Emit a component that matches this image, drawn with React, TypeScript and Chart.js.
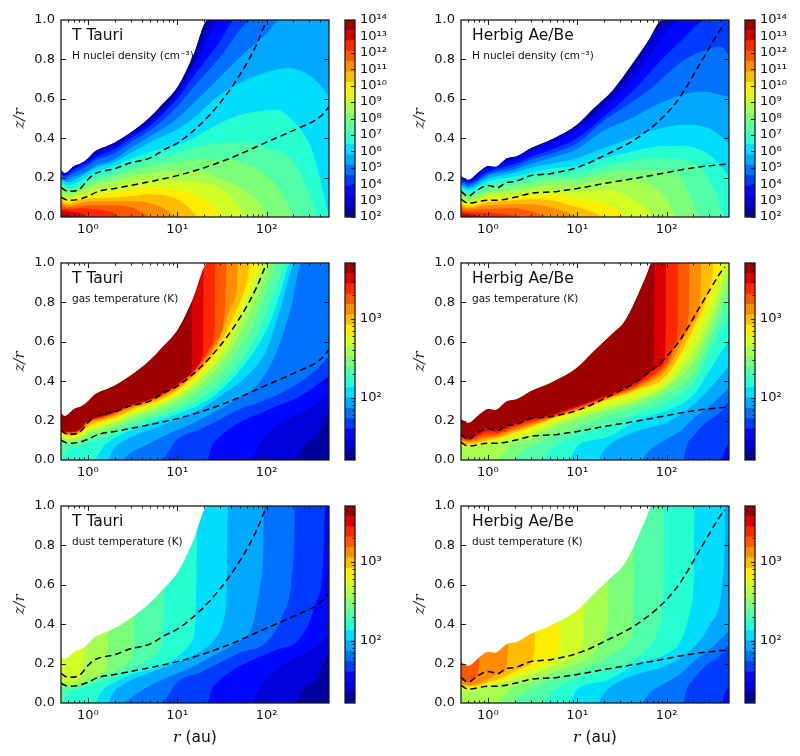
import React, { useEffect, useRef } from "react";
import { Chart, registerables } from "chart.js";
Chart.register(...registerables);

type P = number[][];

// ---- colour-bar level edges
const densityLevels = [1e2, 428, 1833, 7848, 33600, 143844, 615848, 2636651, 1.1288e7, 4.8329e7, 2.0691e8, 8.8587e8, 3.7927e9, 1.6238e10, 6.9519e10, 2.9764e11, 1.2743e12, 5.4556e12, 2.3357e13, 1e14];
const tempLevels = [16.2, 21.9, 29.7, 40.2, 54.4, 73.7, 99.7, 135, 182.7, 247.3, 334.7, 453.1, 613.3, 830.2, 1123.7, 1521, 2059, 2787, 3772, 5106];
const densityTicks = [1e2, 1e3, 1e4, 1e5, 1e6, 1e7, 1e8, 1e9, 1e10, 1e11, 1e12, 1e13, 1e14];
const tempTicks = [1e2, 1e3];
const tempMinor = [20, 30, 40, 50, 60, 70, 80, 90, 200, 300, 400, 500, 600, 700, 800, 900, 2000, 3000, 4000, 5000];
const rMajor = [1, 10, 100];
const rMinor = [0.6, 0.7, 0.8, 0.9, 2, 3, 4, 5, 6, 7, 8, 9, 20, 30, 40, 50, 60, 70, 80, 90, 200, 300, 400];
const zTicks = [0, 0.2, 0.4, 0.6, 0.8, 1];

// ---- dashed curves
const ttDashUpper: P = [[0.5,0.15],[0.6,0.13],[0.8,0.14],[1,0.19],[1.2,0.22],[2,0.245],[3,0.275],[5,0.30],[7,0.34],[10,0.375],[18,0.468],[30,0.578],[50,0.72],[78,0.88],[100,1]];
const ttDashLower: P = [[0.5,0.10],[0.6,0.085],[0.8,0.09],[1,0.105],[1.3,0.13],[2,0.145],[3,0.16],[5,0.18],[10,0.21],[20,0.25],[40,0.30],[100,0.38],[200,0.44],[400,0.51],[500,0.56]];
const haDashUpper: P = [[0.5,0.13],[0.6,0.105],[0.75,0.135],[1,0.16],[1.3,0.15],[1.6,0.175],[2,0.18],[3,0.21],[5,0.22],[10.8,0.257],[23,0.325],[43,0.39],[93,0.51],[142,0.61],[238,0.78],[400,0.95],[450,0.98]];
const haDashLower: P = [[0.5,0.09],[0.6,0.07],[1,0.085],[1.2,0.085],[2,0.1],[3,0.12],[6,0.13],[10,0.145],[20,0.17],[50,0.2],[100,0.225],[200,0.25],[500,0.27]];

// ---- envelopes of the filled region
const ttEnvelope: P = [[0.5,0.24],[0.55,0.225],[0.7,0.26],[0.85,0.275],[1,0.30],[1.2,0.335],[1.5,0.355],[2,0.38],[3,0.43],[5,0.51],[7,0.58],[10,0.66],[15,0.82],[22,1]];
const haEnvelopeDensity: P = [[0.5,0.21],[0.6,0.19],[0.79,0.23],[1.02,0.26],[1.2,0.255],[1.63,0.30],[2.1,0.31],[3,0.35],[5.4,0.40],[9.9,0.47],[15,0.55],[25,0.645],[43,0.79],[63,0.90],[89,1]];
const haEnvelopeTemp: P = [[0.5,0.21],[0.6,0.19],[0.79,0.23],[1.02,0.26],[1.2,0.255],[1.63,0.30],[2.1,0.31],[3,0.35],[5.4,0.40],[9.9,0.47],[15,0.55],[25,0.645],[32,0.69],[39,0.755],[51,0.87],[60,0.945],[68,1]];

// ---- T Tauri density contours, lowest level first
const ttDensity: P[] = [
  ttEnvelope,
  [[0.5,0.235],[0.55,0.22],[0.7,0.255],[1,0.295],[1.2,0.325],[2,0.37],[3,0.42],[5,0.495],[10,0.64],[15,0.78],[25.5,1]],
  [[0.5,0.23],[0.55,0.215],[0.7,0.245],[1,0.285],[1.2,0.315],[2,0.36],[3,0.41],[5,0.48],[10,0.62],[15,0.75],[31.6,1]],
  [[0.5,0.225],[0.55,0.21],[0.7,0.24],[1,0.275],[1.2,0.30],[2,0.345],[3,0.40],[5,0.465],[10,0.60],[15,0.71],[30,0.89],[44.6,1]],
  [[0.5,0.215],[0.55,0.20],[0.7,0.225],[1,0.26],[1.2,0.285],[2,0.325],[3,0.38],[5,0.44],[10,0.56],[15,0.655],[30,0.81],[71.5,1]],
  [[0.5,0.20],[0.55,0.185],[0.7,0.205],[1,0.235],[1.2,0.26],[2,0.295],[3,0.35],[5,0.41],[10,0.50],[15,0.575],[30,0.71],[50,0.81],[100,0.93],[142,1]],
  [[0.5,0.19],[0.6,0.175],[0.8,0.20],[1.15,0.245],[2,0.28],[3,0.325],[5,0.38],[10,0.445],[15,0.50],[30,0.62],[50,0.68],[100,0.735],[180,0.756],[300,0.72],[400,0.67],[500,0.61]],
  [[0.5,0.18],[0.6,0.16],[0.8,0.18],[1.15,0.225],[2,0.26],[3,0.295],[5,0.33],[10,0.365],[15,0.40],[30,0.475],[50,0.518],[100,0.54],[130,0.545],[200,0.484],[300,0.375],[368,0.255],[450,0.09],[500,0]],
  [[0.5,0.165],[0.6,0.145],[0.8,0.16],[1.15,0.20],[2,0.235],[3,0.265],[5,0.295],[10,0.325],[15,0.35],[30,0.375],[60,0.38],[100,0.35],[200,0.28],[300,0.12],[368,0]],
  [[0.5,0.15],[0.6,0.13],[0.8,0.145],[1.15,0.18],[2,0.21],[3,0.235],[5,0.26],[10,0.28],[15,0.29],[30,0.29],[50,0.28],[100,0.213],[150,0.12],[200,0]],
  [[0.5,0.135],[0.6,0.115],[0.8,0.13],[1.15,0.16],[2,0.185],[3,0.205],[5,0.225],[10,0.235],[15,0.235],[30,0.197],[50,0.15],[80,0.08],[103,0]],
  [[0.5,0.12],[0.6,0.10],[0.8,0.115],[1.15,0.135],[2,0.155],[3,0.17],[5,0.19],[10,0.185],[15,0.18],[30,0.147],[50,0.05],[58,0]],
  [[0.5,0.105],[0.6,0.085],[0.8,0.10],[1.15,0.115],[2,0.125],[3,0.14],[5,0.15],[10,0.14],[15,0.12],[25,0.06],[31,0]],
  [[0.5,0.09],[0.6,0.07],[0.8,0.085],[1.15,0.095],[2,0.10],[3,0.105],[5,0.115],[10,0.09],[14,0.04],[16.6,0]],
  [[0.5,0.075],[0.6,0.06],[0.8,0.07],[1.15,0.08],[2,0.08],[3,0.08],[5,0.07],[8,0.03],[9.1,0]],
  [[0.5,0.06],[0.6,0.05],[0.8,0.055],[1.15,0.06],[2,0.06],[3,0.05],[4.2,0.02],[4.8,0]],
  [[0.5,0.045],[0.6,0.04],[0.8,0.045],[1.15,0.04],[1.8,0.025],[2.3,0]],
  [[0.5,0.035],[0.6,0.03],[0.8,0.02],[1,0]],
  [[0.5,0.015],[0.6,0.01],[0.7,0]],
];

// ---- Herbig Ae/Be density contours
const haDensity: P[] = [
  haEnvelopeDensity,
  [[0.5,0.205],[0.6,0.188],[1,0.255],[2,0.30],[3,0.34],[5,0.385],[10,0.455],[20,0.58],[40,0.73],[70,0.92],[110,1]],
  [[0.5,0.20],[0.6,0.185],[1,0.25],[2,0.29],[3,0.33],[5,0.37],[10,0.44],[20,0.55],[40,0.69],[70,0.84],[150,1]],
  [[0.5,0.19],[0.6,0.175],[1,0.23],[2,0.27],[3,0.305],[5,0.34],[10,0.40],[20,0.51],[40,0.63],[70,0.75],[150,0.90],[282,1]],
  [[0.5,0.18],[0.6,0.165],[1,0.22],[2,0.255],[3,0.29],[5,0.32],[10,0.375],[20,0.49],[40,0.58],[70,0.66],[150,0.79],[300,0.855],[400,0.865],[500,0.82]],
  [[0.5,0.17],[0.6,0.155],[1,0.21],[2,0.24],[3,0.27],[5,0.30],[10,0.345],[20,0.44],[40,0.50],[70,0.56],[150,0.62],[250,0.637],[500,0.61]],
  [[0.5,0.16],[0.6,0.145],[1,0.195],[2,0.225],[3,0.25],[5,0.27],[10,0.30],[20,0.35],[40,0.40],[70,0.44],[169,0.47],[300,0.45],[500,0.375]],
  [[0.5,0.15],[0.6,0.135],[1,0.18],[2,0.205],[3,0.225],[5,0.245],[10,0.26],[20,0.30],[40,0.33],[70,0.355],[125,0.36],[228,0.345],[350,0.29],[435,0.24],[500,0.2]],
  [[0.5,0.135],[0.6,0.12],[1,0.16],[2,0.185],[3,0.20],[5,0.215],[10,0.225],[20,0.26],[40,0.285],[70,0.30],[125,0.295],[228,0.26],[350,0.13],[435,0]],
  [[0.5,0.12],[0.6,0.105],[1,0.14],[2,0.16],[3,0.175],[5,0.19],[10,0.195],[20,0.225],[40,0.24],[70,0.24],[125,0.23],[180,0.12],[228,0]],
  [[0.5,0.105],[0.6,0.09],[1,0.125],[2,0.14],[3,0.15],[5,0.165],[10,0.165],[20,0.19],[40,0.19],[70,0.155],[100,0.09],[125,0]],
  [[0.5,0.09],[0.6,0.08],[1,0.11],[2,0.12],[3,0.13],[5,0.14],[10,0.13],[20,0.14],[40,0.10],[60,0.04],[68.5,0]],
  [[0.5,0.08],[0.6,0.065],[1,0.09],[2,0.10],[3,0.11],[5,0.115],[10,0.09],[20,0.07],[30,0.03],[36,0]],
  [[0.5,0.07],[0.6,0.055],[1,0.075],[2,0.085],[3,0.09],[5,0.085],[10,0.05],[15,0.025],[18.9,0]],
  [[0.5,0.055],[0.6,0.045],[1,0.06],[2,0.065],[3,0.065],[5,0.05],[8,0.02],[9.9,0]],
  [[0.5,0.04],[0.6,0.035],[1,0.04],[2,0.045],[3,0.03],[4,0.01],[4.8,0]],
  [[0.5,0.03],[0.6,0.025],[1,0.02],[1.8,0.01],[2.3,0]],
  [[0.5,0.02],[0.6,0.015],[0.8,0.005],[0.89,0]],
  [[0.5,0.01],[0.6,0.005],[0.66,0]],
];

// ---- T Tauri gas temperature contours, hottest first
const ttCold2: P = [[68,0],[78,0.054],[92,0.105],[130,0.172],[200,0.223],[307,0.265],[500,0.34]];
const ttCold1: P = [[218,0],[248,0.054],[295,0.096],[350,0.105],[398,0.155],[500,0.257]];
const ttGas: P[] = [
  ttEnvelope,
  [[0.5,0.155],[0.6,0.145],[0.8,0.155],[1,0.20],[1.5,0.225],[2,0.245],[3,0.28],[5,0.31],[8,0.355],[12,0.405],[14.4,0.43],[14.6,0.5],[14.7,1]],
  [[0.5,0.15],[0.6,0.14],[0.8,0.15],[1,0.197],[1.5,0.223],[2,0.243],[3,0.277],[5,0.307],[8,0.352],[12,0.41],[16,0.455],[19,0.52],[19.6,0.6],[19.8,1]],
  [[0.5,0.15],[0.6,0.14],[0.8,0.15],[1,0.195],[1.5,0.22],[2,0.24],[3,0.275],[5,0.305],[8,0.35],[12,0.405],[18,0.49],[24,0.58],[26.3,0.70],[26.7,1]],
  [[0.5,0.145],[0.6,0.135],[0.8,0.145],[1,0.19],[1.5,0.215],[2,0.235],[3,0.27],[5,0.30],[8,0.345],[12,0.40],[20,0.505],[27,0.60],[34,0.75],[36,1]],
  [[0.5,0.14],[0.6,0.13],[0.8,0.14],[1,0.18],[1.5,0.21],[2,0.225],[3,0.26],[5,0.295],[8,0.335],[12,0.39],[20,0.49],[30,0.62],[40,0.78],[47,0.90],[48,1]],
  [[0.5,0.135],[0.6,0.125],[0.8,0.135],[1,0.17],[1.5,0.20],[2,0.215],[3,0.25],[5,0.285],[8,0.325],[12,0.38],[20,0.475],[30,0.59],[46,0.76],[60,0.90],[66,1]],
  [[0.5,0.125],[0.6,0.115],[0.8,0.125],[1,0.16],[1.5,0.185],[2,0.205],[3,0.24],[5,0.275],[8,0.315],[12,0.365],[20,0.455],[30,0.56],[46,0.72],[60,0.85],[93,1]],
  [[0.5,0.115],[0.6,0.105],[0.8,0.115],[1,0.145],[1.5,0.17],[2,0.19],[3,0.225],[5,0.26],[8,0.30],[12,0.345],[20,0.43],[30,0.52],[46,0.66],[71,0.85],[105,1]],
  [[0.5,0.105],[0.6,0.095],[0.8,0.10],[1,0.13],[1.5,0.155],[2,0.175],[3,0.21],[5,0.245],[8,0.28],[12,0.325],[20,0.40],[30,0.485],[46,0.61],[71,0.78],[100,0.95],[112,1]],
  [[0.5,0.09],[0.6,0.08],[0.8,0.085],[1,0.11],[1.5,0.135],[2,0.155],[3,0.19],[5,0.225],[8,0.26],[12,0.295],[20,0.365],[30,0.435],[46,0.54],[71,0.69],[100,0.86],[135,1]],
  [[0.53,0.01],[0.6,0.055],[0.8,0.065],[1,0.085],[1.5,0.11],[2,0.13],[3,0.17],[5,0.20],[8,0.235],[12,0.265],[20,0.32],[30,0.38],[46,0.47],[71,0.60],[110,0.80],[140,0.92],[165,1]],
  [[1.2,0],[1.5,0.07],[2,0.113],[3.2,0.155],[6,0.198],[11,0.24],[19.7,0.29],[30,0.35],[46,0.434],[71,0.544],[110,0.70],[150,0.88],[185,1]],
  [[1.7,0],[1.94,0.054],[2.73,0.105],[5,0.155],[10,0.206],[18,0.257],[30,0.324],[55,0.41],[100,0.56],[150,0.80],[210,1]],
  [[2.5,0],[3,0.035],[4.2,0.07],[7.7,0.13],[12.8,0.172],[25,0.24],[43,0.30],[85,0.40],[130,0.55],[190,0.78],[248,1]],
  [[7,0],[10,0.105],[18,0.155],[30,0.206],[50,0.257],[100,0.307],[200,0.375],[364,0.46],[500,0.527]],
  [[22,0],[24.4,0.07],[28,0.105],[43,0.172],[71,0.223],[130,0.274],[238,0.324],[500,0.426]],
  ttCold2,
  ttCold1,
];

// ---- Herbig Ae/Be gas temperature contours
const haCold5: P = [[53,0],[66,0.054],[100,0.105],[142,0.147],[200,0.21],[307,0.274],[500,0.367]];
const haCold4: P = [[155,0],[168,0.07],[200,0.12],[248,0.17],[307,0.206],[396,0.24],[500,0.30]];
const haCold3: P = [[415,0],[450,0.05],[500,0.088]];
const haGas: P[] = [
  haEnvelopeTemp,
  [[0.5,0.135],[0.6,0.11],[0.75,0.14],[1,0.165],[1.2,0.155],[2,0.19],[3,0.21],[5,0.23],[10,0.275],[20,0.325],[50,0.41],[60,0.44],[72,0.47],[73,0.6],[74,1]],
  [[0.5,0.125],[0.6,0.105],[0.75,0.125],[1,0.15],[1.2,0.145],[2,0.18],[3,0.205],[5,0.225],[10,0.27],[20,0.32],[50,0.40],[80,0.47],[96,0.52],[98,0.7],[99,1]],
  [[0.5,0.115],[0.6,0.10],[0.75,0.115],[1,0.135],[1.2,0.135],[2,0.17],[3,0.195],[5,0.22],[10,0.265],[20,0.315],[50,0.39],[100,0.50],[125,0.59],[134,0.7],[135,1]],
  [[0.5,0.105],[0.6,0.095],[0.75,0.105],[1,0.12],[1.2,0.125],[2,0.16],[3,0.185],[5,0.215],[10,0.26],[20,0.31],[50,0.38],[100,0.48],[150,0.63],[178,0.75],[181,1]],
  [[0.5,0.095],[0.6,0.09],[0.75,0.095],[1,0.11],[1.2,0.115],[2,0.15],[3,0.175],[5,0.21],[10,0.255],[20,0.305],[50,0.37],[100,0.46],[200,0.70],[240,0.85],[244,1]],
  [[0.5,0.085],[0.6,0.08],[0.75,0.085],[1,0.10],[1.2,0.105],[2,0.14],[3,0.165],[5,0.205],[10,0.25],[20,0.30],[50,0.36],[100,0.43],[200,0.67],[300,0.87],[330,0.97],[332,1]],
  [[0.5,0.08],[0.6,0.075],[0.75,0.08],[1,0.095],[1.2,0.10],[2,0.13],[3,0.155],[5,0.195],[10,0.245],[20,0.29],[50,0.345],[100,0.415],[200,0.63],[300,0.80],[400,0.96],[416,1]],
  [[0.5,0.065],[0.6,0.06],[0.75,0.07],[1,0.075],[1.2,0.08],[2,0.105],[3,0.125],[5,0.175],[10,0.225],[20,0.265],[50,0.315],[100,0.385],[200,0.55],[300,0.72],[500,1]],
  [[1.26,0],[1.63,0.054],[2,0.085],[3,0.105],[5,0.155],[10,0.206],[20,0.25],[50,0.30],[100,0.365],[200,0.50],[300,0.66],[500,0.93]],
  [[2,0],[2.5,0.05],[3,0.07],[5,0.115],[10,0.16],[20,0.22],[50,0.275],[100,0.335],[200,0.44],[300,0.60],[500,0.86]],
  [[4.2,0],[5,0.05],[10,0.125],[20,0.165],[50,0.24],[100,0.295],[200,0.39],[300,0.55],[500,0.747]],
  [[8.3,0],[10,0.07],[20,0.11],[50,0.205],[100,0.25],[200,0.33],[300,0.45],[500,0.61]],
  [[17.3,0],[20,0.05],[30,0.11],[50,0.15],[100,0.19],[200,0.28],[300,0.36],[500,0.476]],
  haCold5,
  haCold4,
  haCold3,
];

// ---- dust temperature contours
const ttDust: P[] = [
  ttEnvelope,
  [[0.5,0.115],[0.6,0.105],[0.75,0.115],[0.85,0.16],[0.9,0.22],[0.92,0.32]],
  [[0.5,0.10],[0.6,0.09],[0.8,0.10],[1,0.125],[1.4,0.15],[1.6,0.19],[1.66,0.27],[1.68,0.40]],
  [[0.5,0.085],[0.6,0.08],[0.8,0.085],[1,0.105],[1.5,0.135],[2,0.16],[3,0.22],[3.3,0.30],[3.35,0.48]],
  [[0.53,0.01],[0.6,0.055],[0.8,0.07],[1,0.085],[1.5,0.115],[2,0.135],[3,0.17],[5,0.22],[6.5,0.28],[7,0.40],[7.1,0.6]],
  [[1.2,0],[1.5,0.07],[2,0.105],[3,0.145],[6,0.18],[10,0.235],[14,0.30],[16,0.42],[16.6,0.8],[17,1]],
  [[1.7,0],[1.94,0.054],[2.73,0.105],[5,0.155],[10,0.205],[18,0.26],[27,0.33],[33,0.42],[36,0.6],[37,1]],
  [[2.5,0],[4.2,0.07],[7.7,0.13],[12.8,0.17],[25,0.24],[43,0.30],[70,0.40],[85,0.60],[92,0.8],[93,1]],
  [[7,0],[10,0.105],[18,0.155],[30,0.205],[50,0.255],[100,0.31],[150,0.44],[190,0.62],[205,0.85],[208,1]],
  [[22,0],[24.4,0.07],[28,0.105],[43,0.17],[71,0.22],[130,0.27],[238,0.33],[350,0.50],[430,0.72],[455,1]],
  ttCold2,
  ttCold1,
];
const haDust: P[] = [
  haEnvelopeTemp,
  [[0.5,0.115],[0.6,0.105],[0.75,0.13],[0.79,0.17],[0.8,0.25]],
  [[0.5,0.10],[0.6,0.09],[0.8,0.10],[1,0.12],[1.3,0.145],[1.6,0.17],[1.66,0.24],[1.68,0.35]],
  [[0.5,0.09],[0.6,0.085],[0.8,0.09],[1,0.105],[1.5,0.13],[2,0.16],[3,0.195],[3.3,0.25],[3.35,0.4]],
  [[0.5,0.08],[0.6,0.075],[0.8,0.08],[1,0.095],[1.5,0.115],[2,0.14],[3,0.165],[5,0.205],[6.2,0.25],[6.4,0.45]],
  [[0.5,0.065],[0.6,0.06],[0.8,0.07],[1,0.08],[1.5,0.10],[2,0.115],[3,0.14],[5,0.18],[8,0.22],[11,0.26],[11.8,0.32],[12,0.55]],
  [[1.26,0],[1.63,0.054],[2,0.085],[3,0.105],[5,0.15],[10,0.20],[15,0.25],[20,0.32],[21.8,0.40],[22,0.65]],
  [[2,0],[2.5,0.05],[3,0.07],[5,0.115],[10,0.16],[20,0.22],[30,0.27],[40,0.33],[42,0.40],[42.5,0.75]],
  [[4.2,0],[5,0.05],[10,0.125],[20,0.165],[50,0.24],[75,0.33],[88,0.42],[92,0.55],[93,0.85]],
  [[8.3,0],[10,0.07],[20,0.11],[50,0.205],[100,0.25],[150,0.33],[190,0.50],[203,0.70],[205,1]],
  [[17.3,0],[20,0.05],[30,0.11],[50,0.15],[100,0.19],[200,0.28],[307,0.40],[420,0.60],[450,0.85],[455,1]],
  haCold5,
  haCold4,
  haCold3,
];

const BAND_COUNT = 19;
const INK = "#1c1c1c";
const SANS = "'DejaVu Sans'";

function seg(t: number, pts: number[][]) {
  for (let i = 1; i < pts.length; i++) {
    if (t <= pts[i][0]) {
      const [a, va] = pts[i - 1];
      const [b, vb] = pts[i];
      return va + ((t - a) / (b - a)) * (vb - va);
    }
  }
  return pts[pts.length - 1][1];
}
function jet(t: number) {
  const r = seg(t, [[0, 0], [0.35, 0], [0.66, 1], [0.89, 1], [1, 0.5]]);
  const g = seg(t, [[0, 0], [0.125, 0], [0.375, 1], [0.64, 1], [0.91, 0], [1, 0]]);
  const b = seg(t, [[0, 0.5], [0.11, 1], [0.34, 1], [0.65, 0], [1, 0]]);
  return `rgb(${Math.round(r * 255)},${Math.round(g * 255)},${Math.round(b * 255)})`;
}
const bandColor = (k: number) => jet((k + 0.5) / BAND_COUNT);

const SUP: Record<string, string> = { "0": "⁰", "1": "¹", "2": "²", "3": "³", "4": "⁴", "5": "⁵", "6": "⁶", "7": "⁷", "8": "⁸", "9": "⁹" };
const powerLabel = (v: number) => "10" + String(Math.round(Math.log10(v))).split("").map((c) => SUP[c]).join("");

function Panel(props: { left: number; top: number; curves: P[]; startBand: number; step: number; dashes: P[]; title: string; subtitle: string; xLabel: boolean }) {
  const ref = useRef<HTMLCanvasElement>(null);
  useEffect(() => {
    const toXY = (c: P) => {
      const d = c.map(([x, y]) => ({ x, y }));
      const last = c[c.length - 1];
      if (last[1] >= 1 && last[0] < 500) d.push({ x: 500, y: 1 });
      if (last[1] > 0 && last[1] < 1 && last[0] < 500) d.push({ x: last[0] * 1.001, y: 1 }, { x: 500, y: 1 });
      return d;
    };
    const bands = props.curves.map((c, i) => ({
      data: toXY(c),
      borderWidth: 0,
      pointRadius: 0,
      cubicInterpolationMode: "monotone",
      fill: "origin",
      backgroundColor: bandColor(props.startBand + props.step * i),
    }));
    const mask = {
      data: toXY(props.curves[0]),
      borderWidth: 0,
      pointRadius: 0,
      cubicInterpolationMode: "monotone",
      fill: "end",
      backgroundColor: "#ffffff",
    };
    const dashes = props.dashes.map((c) => ({
      data: c.map(([x, y]) => ({ x, y })),
      borderColor: "#000",
      borderWidth: 1.5,
      borderDash: [6.5, 4],
      pointRadius: 0,
      cubicInterpolationMode: "monotone",
      fill: false,
    }));
    const frame = {
      id: "frame",
      afterDatasetsDraw(chart: any) {
        const { ctx, chartArea: a, scales } = chart;
        ctx.save();
        ctx.strokeStyle = INK;
        ctx.lineWidth = 1;
        const tickX = (v: number, len: number) => {
          const x = Math.round(scales.x.getPixelForValue(v)) + 0.5;
          ctx.beginPath();
          ctx.moveTo(x, a.bottom);
          ctx.lineTo(x, a.bottom - len);
          ctx.moveTo(x, a.top);
          ctx.lineTo(x, a.top + len);
          ctx.stroke();
        };
        rMajor.forEach((v) => tickX(v, 5));
        rMinor.forEach((v) => tickX(v, 2.5));
        zTicks.slice(1, -1).forEach((v) => {
          const y = Math.round(scales.y.getPixelForValue(v)) + 0.5;
          ctx.beginPath();
          ctx.moveTo(a.left, y);
          ctx.lineTo(a.left + 5, y);
          ctx.moveTo(a.right, y);
          ctx.lineTo(a.right - 5, y);
          ctx.stroke();
        });
        ctx.lineWidth = 1.3;
        ctx.strokeRect(a.left, a.top, a.right - a.left, a.bottom - a.top);
        ctx.fillStyle = "#111";
        ctx.textAlign = "left";
        ctx.textBaseline = "alphabetic";
        ctx.font = `15.5px ${SANS}`;
        ctx.fillText(props.title, a.left + 11, a.top + 20);
        ctx.font = `10.5px ${SANS}`;
        ctx.fillText(props.subtitle, a.left + 11, a.top + 39);
        if (props.xLabel) {
          ctx.font = "italic 15.5px 'DejaVu Serif'";
          const w1 = ctx.measureText("r").width;
          ctx.font = `15.5px ${SANS}`;
          const w2 = ctx.measureText(" (au)").width;
          const x0 = (a.left + a.right) / 2 - (w1 + w2) / 2;
          const y0 = a.bottom + 39;
          ctx.font = "italic 15.5px 'DejaVu Serif'";
          ctx.fillText("r", x0, y0);
          ctx.font = `15.5px ${SANS}`;
          ctx.fillText(" (au)", x0 + w1, y0);
        }
        ctx.restore();
      },
    };
    const chart = new Chart(ref.current!, {
      type: "line",
      data: { datasets: [...dashes, mask, ...bands.slice().reverse()] as any },
      plugins: [frame],
      options: {
        animation: false,
        responsive: false,
        devicePixelRatio: 1,
        layout: { autoPadding: false, padding: { top: 20, left: 0, right: 11, bottom: 0 } },
        plugins: { legend: { display: false }, tooltip: { enabled: false } },
        scales: {
          x: {
            type: "logarithmic",
            min: 0.5,
            max: 500,
            border: { display: false },
            grid: { display: false, drawTicks: false },
            afterBuildTicks(s: any) {
              s.ticks = rMajor.map((value) => ({ value, major: true }));
            },
            afterFit(s: any) {
              s.height = 45;
            },
            ticks: {
              autoSkip: false,
              maxRotation: 0,
              padding: 5,
              color: "#111",
              font: { family: "DejaVu Sans", size: 13 },
              callback: (v: any) => powerLabel(Number(v)),
            },
          },
          y: {
            type: "linear",
            min: 0,
            max: 1,
            border: { display: false },
            grid: { display: false, drawTicks: false },
            afterBuildTicks(s: any) {
              s.ticks = zTicks.map((value) => ({ value }));
            },
            afterFit(s: any) {
              s.width = 61;
            },
            title: {
              display: true,
              text: "z/r",
              color: "#333",
              font: { family: "DejaVu Serif", style: "italic", size: 15 },
              padding: { top: 11, bottom: 0 },
            },
            ticks: {
              padding: 6,
              color: "#111",
              font: { family: "DejaVu Sans", size: 13 },
              callback: (v: any) => Number(v).toFixed(1),
            },
          },
        },
      } as any,
    });
    return () => chart.destroy();
  }, []);
  return <canvas ref={ref} width={340} height={262} style={{ position: "absolute", left: props.left, top: props.top }} />;
}

function ColorBar(props: { left: number; top: number; levels: number[]; ticks: number[]; minor: number[] }) {
  const ref = useRef<HTMLCanvasElement>(null);
  useEffect(() => {
    const datasets = props.levels.slice(0, -1).map((lo, k) => ({
      data: [[lo, props.levels[k + 1]]],
      backgroundColor: bandColor(k),
      borderWidth: 0,
      grouped: false,
      barPercentage: 1,
      categoryPercentage: 1,
    }));
    const frame = {
      id: "barFrame",
      afterDatasetsDraw(chart: any) {
        const { ctx, chartArea: a, scales } = chart;
        ctx.save();
        ctx.strokeStyle = INK;
        ctx.lineWidth = 1;
        const tick = (v: number, len: number) => {
          const y = Math.round(scales.y.getPixelForValue(v)) + 0.5;
          ctx.beginPath();
          ctx.moveTo(a.right, y);
          ctx.lineTo(a.right - len, y);
          ctx.stroke();
        };
        props.ticks.forEach((v) => tick(v, 4));
        props.minor.forEach((v) => tick(v, 2.5));
        ctx.lineWidth = 1.3;
        ctx.strokeRect(a.left, a.top, a.right - a.left, a.bottom - a.top);
        ctx.restore();
      },
    };
    const chart = new Chart(ref.current!, {
      type: "bar",
      data: { labels: ["band"], datasets } as any,
      plugins: [frame],
      options: {
        animation: false,
        responsive: false,
        devicePixelRatio: 1,
        layout: { autoPadding: false, padding: { top: 20, left: 5, right: 0, bottom: 45 } },
        plugins: { legend: { display: false }, tooltip: { enabled: false } },
        scales: {
          x: { display: false },
          y: {
            type: "logarithmic",
            position: "right",
            min: props.levels[0],
            max: props.levels[props.levels.length - 1],
            border: { display: false },
            grid: { display: false, drawTicks: false },
            afterBuildTicks(s: any) {
              s.ticks = props.ticks.map((value) => ({ value, major: true }));
            },
            afterFit(s: any) {
              s.width = 45;
            },
            ticks: {
              autoSkip: false,
              padding: 5,
              color: "#111",
              font: { family: "DejaVu Sans", size: 13 },
              callback: (v: any) => powerLabel(Number(v)),
            },
          },
        },
      } as any,
    });
    return () => chart.destroy();
  }, []);
  return <canvas ref={ref} width={60} height={262} style={{ position: "absolute", left: props.left, top: props.top }} />;
}

const TT = "T Tauri";
const HA = "Herbig Ae/Be";
const DENS = "H nuclei density (cm⁻³)";
const GAS = "gas temperature (K)";
const DUST = "dust temperature (K)";

export default function App() {
  return (
    <div style={{ position: "absolute", left: 0, top: 0, width: 800, height: 756, background: "#fff", overflow: "hidden" }}>
      <Panel left={0} top={0} curves={ttDensity} startBand={0} step={1} dashes={[ttDashUpper, ttDashLower]} title={TT} subtitle={DENS} xLabel={false} />
      <Panel left={400} top={0} curves={haDensity} startBand={0} step={1} dashes={[haDashUpper, haDashLower]} title={HA} subtitle={DENS} xLabel={false} />
      <Panel left={0} top={243} curves={ttGas} startBand={18} step={-1} dashes={[ttDashUpper, ttDashLower]} title={TT} subtitle={GAS} xLabel={false} />
      <Panel left={400} top={243} curves={haGas} startBand={18} step={-1} dashes={[haDashUpper, haDashLower]} title={HA} subtitle={GAS} xLabel={false} />
      <Panel left={0} top={486} curves={ttDust} startBand={11} step={-1} dashes={[ttDashUpper, ttDashLower]} title={TT} subtitle={DUST} xLabel={true} />
      <Panel left={400} top={486} curves={haDust} startBand={15} step={-1} dashes={[haDashUpper, haDashLower]} title={HA} subtitle={DUST} xLabel={true} />
      <ColorBar left={340} top={0} levels={densityLevels} ticks={densityTicks} minor={[]} />
      <ColorBar left={740} top={0} levels={densityLevels} ticks={densityTicks} minor={[]} />
      <ColorBar left={340} top={243} levels={tempLevels} ticks={tempTicks} minor={tempMinor} />
      <ColorBar left={740} top={243} levels={tempLevels} ticks={tempTicks} minor={tempMinor} />
      <ColorBar left={340} top={486} levels={tempLevels} ticks={tempTicks} minor={tempMinor} />
      <ColorBar left={740} top={486} levels={tempLevels} ticks={tempTicks} minor={tempMinor} />
    </div>
  );
}
